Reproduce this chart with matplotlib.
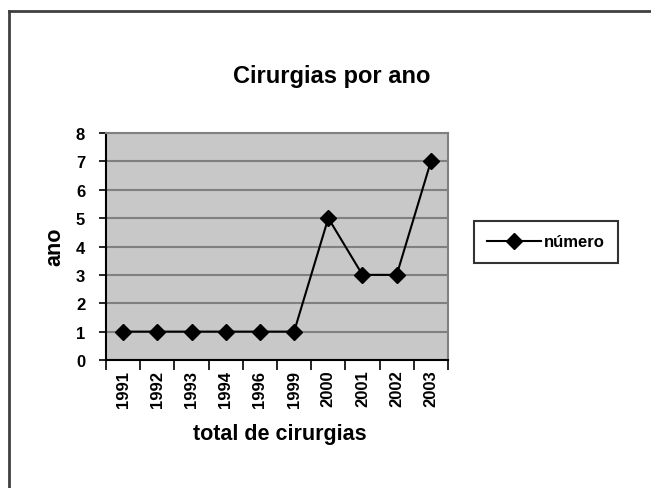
import matplotlib
matplotlib.use("Agg")
import matplotlib.pyplot as plt
from matplotlib.lines import Line2D

plt.rcParams['font.family'] = ['Liberation Sans', 'DejaVu Sans']
plt.rcParams['font.weight'] = 'bold'

# Dados
anos = ['1991', '1992', '1993', '1994', '1996', '1999', '2000', '2001', '2002', '2003']
numero = [1, 1, 1, 1, 1, 1, 5, 3, 3, 7]

fig = plt.figure(figsize=(6.51, 4.89), dpi=100)
W, H = 651, 489

# posicion del area del grafico (pixeles)
x0, x1, y0, y1 = 106, 448, 134, 361
ax = fig.add_axes([x0 / W, 1 - y1 / H, (x1 - x0) / W, (y1 - y0) / H])
ax.set_facecolor('#c8c8c8')

pos = [i + 0.5 for i in range(len(anos))]
ax.plot(pos, numero, color='black', lw=1.5, marker='D', markersize=8,
        label='número', zorder=3)

ax.set_xlim(0, len(anos))
ax.set_ylim(0, 8)
ax.set_yticks(range(0, 9))
ax.yaxis.grid(True, color='#808080', lw=1.5)
ax.set_axisbelow(True)

ax.set_xticks(range(0, len(anos) + 1))
ax.set_xticklabels([])
ax.set_xticks(pos, minor=True)
ax.set_xticklabels(anos, minor=True, rotation=90, fontsize=12, fontweight='bold')
ax.tick_params(axis='x', which='major', length=7, width=1.2, color='black', direction='out')
ax.tick_params(axis='x', which='minor', length=0, pad=7)
ax.tick_params(axis='y', length=5, width=1.2, labelsize=12, pad=10)
for lab in ax.get_yticklabels():
    lab.set_fontweight('bold')

for s in ['left', 'bottom']:
    ax.spines[s].set_color('black')
    ax.spines[s].set_linewidth(1.5)
for s in ['top', 'right']:
    ax.spines[s].set_color('#808080')
    ax.spines[s].set_linewidth(1.5)

fig.text(332 / W, 1 - 76 / H, 'Cirurgias por ano', ha='center', va='center',
         fontsize=17, fontweight='bold')
fig.text(280 / W, 1 - 435 / H, 'total de cirurgias', ha='center', va='center',
         fontsize=15.5, fontweight='bold')
fig.text(55 / W, 1 - 247 / H, 'ano', ha='center', va='center', rotation=90,
         fontsize=15.5, fontweight='bold')

leg = fig.legend(loc='center', bbox_to_anchor=(546 / W, 1 - 243 / H),
                 frameon=True, fancybox=False, fontsize=12, handlelength=3.2,
                 borderpad=0.8, handletextpad=0.2, borderaxespad=0)
leg.get_frame().set_edgecolor('black')
leg.get_frame().set_linewidth(1.5)
leg.get_frame().set_facecolor('white')

# marco exterior
fig.add_artist(Line2D([9 / W, 9 / W], [0, 1 - 12 / H], transform=fig.transFigure,
                      color='#404040', lw=2))
fig.add_artist(Line2D([9 / W, 1], [1 - 12 / H, 1 - 12 / H], transform=fig.transFigure,
                      color='#404040', lw=2))

fig.savefig('out.png', dpi=100)
